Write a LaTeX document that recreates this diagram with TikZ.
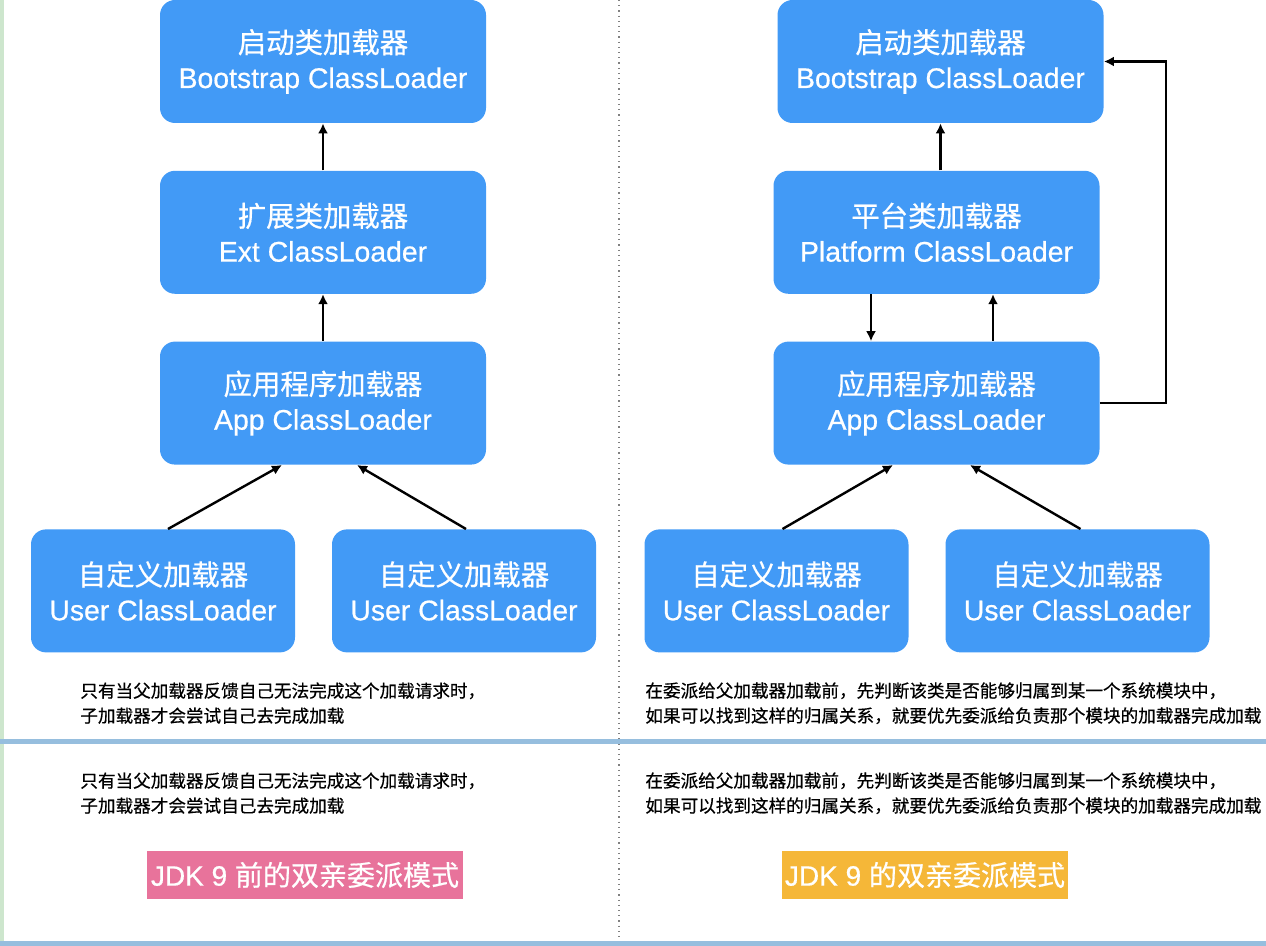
\documentclass[tikz,border=0pt]{standalone}
\usepackage{fontspec}
\setmainfont{Liberation Sans}[FakeBold=0.6]
\newfontfamily\cjk{Noto Sans CJK SC}[FakeBold=0.6]
\usetikzlibrary{arrows.meta, positioning}

\definecolor{loaderblue}{RGB}{66,154,246}
\definecolor{tagpink}{RGB}{232,115,155}
\definecolor{tagorange}{RGB}{245,183,56}
\definecolor{bandblue}{RGB}{150,190,222}
\definecolor{edgegreen}{RGB}{205,230,205}

\begin{document}
\begin{tikzpicture}[
  x=0.5pt, y=-0.5pt,
  node distance=23.5pt,
  loader/.style={fill=loaderblue, text=white, rounded corners=7.5pt, align=center, minimum width=163pt, minimum height=61.5pt, inner sep=0pt, font=\fontsize{14.2}{17.5}\selectfont},
  userloader/.style={loader, minimum width=132pt},
  note/.style={anchor=north west, align=left, inner sep=0pt, font=\cjk\fontsize{8.8}{12.5}\selectfont},
  tag/.style={text=white, minimum height=24pt, inner sep=0pt, font=\fontsize{14}{16}\selectfont},
  arrow/.style={-{Latex[length=5pt, width=5pt]}, line width=1.2pt}
]
\useasboundingbox (0,0) rectangle (1266,946);

\fill[edgegreen] (0,0) rectangle (4,946);
\draw[gray, dotted, line width=0.6pt] (619,0) -- (619,946);
\fill[bandblue] (0,739) rectangle (1266,744);
\fill[bandblue] (0,941) rectangle (1266,946);

\node[loader] (boot) at (323,61.5) {{\cjk 启动类加载器}\\Bootstrap ClassLoader};
\node[loader, below=of boot] (ext) {{\cjk 扩展类加载器}\\Ext ClassLoader};
\node[loader, below=of ext] (app) {{\cjk 应用程序加载器}\\App ClassLoader};
\node[userloader, below=32pt of app, xshift=-80pt] (user) {{\cjk 自定义加载器}\\User ClassLoader};
\node[userloader, below=32pt of app, xshift=70.5pt] (userb) {{\cjk 自定义加载器}\\User ClassLoader};

\draw[arrow] (ext) -- (boot);
\draw[arrow] (app) -- (ext);
\draw[arrow] ([xshift=2.5pt]user.north) -- ([xshift=-20.5pt]app.south);
\draw[arrow] ([xshift=1pt]userb.north) -- ([xshift=17pt]app.south);

\node[loader] (bootj) at (940.5,61.5) {{\cjk 启动类加载器}\\Bootstrap ClassLoader};
\node[loader, below=of bootj, xshift=-2pt] (plat) {{\cjk 平台类加载器}\\Platform ClassLoader};
\node[loader, below=of plat] (appj) {{\cjk 应用程序加载器}\\App ClassLoader};
\node[userloader, below=32pt of appj, xshift=-80pt] (userj) {{\cjk 自定义加载器}\\User ClassLoader};
\node[userloader, below=32pt of appj, xshift=70.5pt] (userjb) {{\cjk 自定义加载器}\\User ClassLoader};

\draw[arrow] (plat.north -| bootj) -- (bootj);
\draw[arrow] ([xshift=-32.75pt]plat.south) -- ([xshift=-32.75pt]appj.north);
\draw[arrow] ([xshift=28.25pt]appj.north) -- ([xshift=28.25pt]plat.south);
\draw[arrow] (appj.east) -- ++(33pt,0) |- (bootj.east);
\draw[arrow] ([xshift=3pt]userj.north) -- ([xshift=-21.75pt]appj.south);
\draw[arrow] ([xshift=1.5pt]userjb.north) -- ([xshift=16.75pt]appj.south);

\node[note] (rule) at (80,682) {只有当父加载器反馈自己无法完成这个加载请求时，\\子加载器才会尝试自己去完成加载};
\node[note] (rulej) at (645,682) {在委派给父加载器加载前，先判断该类是否能够归属到某一个系统模块中，\\如果可以找到这样的归属关系，就要优先委派给负责那个模块的加载器完成加载};
\node[note] (ruleb) at (80,772) {只有当父加载器反馈自己无法完成这个加载请求时，\\子加载器才会尝试自己去完成加载};
\node[note] (rulejb) at (645,772) {在委派给父加载器加载前，先判断该类是否能够归属到某一个系统模块中，\\如果可以找到这样的归属关系，就要优先委派给负责那个模块的加载器完成加载};

\node[tag, fill=tagpink, minimum width=158pt] (old) at (305,875) {JDK 9 {\cjk 前的双亲委派模式}};
\node[tag, fill=tagorange, minimum width=143pt] (new) at (925,875) {JDK 9 {\cjk 的双亲委派模式}};

\end{tikzpicture}
\end{document}
